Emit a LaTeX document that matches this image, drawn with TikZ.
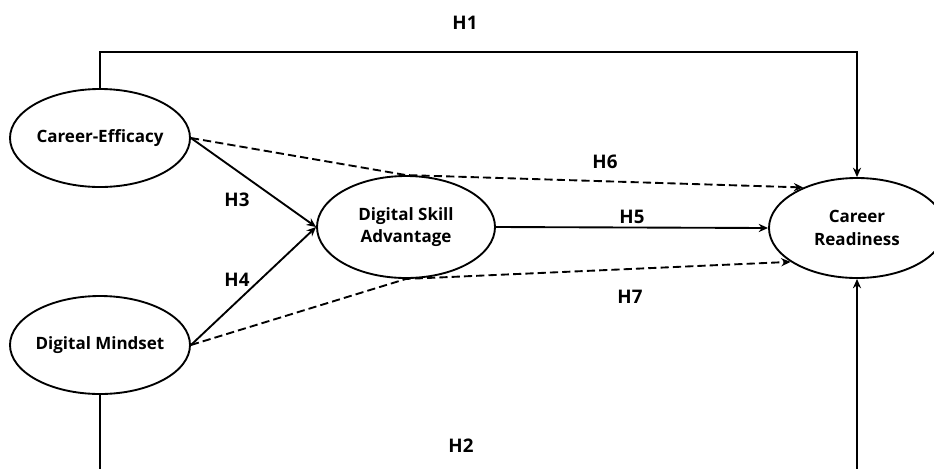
\documentclass[tikz,border=0pt]{standalone}
\usepackage{fontspec}
\setmainfont{Open Sans}
\usetikzlibrary{shapes.geometric, arrows.meta}

\tikzset{
  latent/.style = {draw, ellipse, line width = 1.6pt, inner sep = -3pt,
    align = center, font = \fontsize{14.5}{19}\selectfont\bfseries},
  hyp/.style = {font = \fontsize{16}{19}\selectfont\bfseries},
  path/.style = {line width = 1.6pt, -{Stealth[length = 8pt, width = 7pt]}},
  medpath/.style = {path, dash pattern = on 7pt off 3.5pt}
}

\begin{document}
\begin{tikzpicture}[x = 0.03cm, y = -0.03cm]
\useasboundingbox (0, 0) rectangle (934, 468);
\clip (0, 0) rectangle (934, 468);

\node[latent, minimum width = 5.4cm, minimum height = 2.94cm] (ce) at (100, 138) {Career-Efficacy};
\node[latent, minimum width = 5.4cm, minimum height = 2.94cm] (dm) at (100, 345) {Digital Mindset};
\node[latent, minimum width = 5.34cm, minimum height = 3.06cm] (dsa) at (406, 227) {Digital Skill\\Advantage};
\node[latent, minimum width = 5.28cm, minimum height = 3cm] (cr) at (857, 228) {Career\\Readiness};

\coordinate (h1) at (100, 52);
\coordinate (h2l) at (100, 490);
\coordinate (h2r) at (857, 490);

\draw[path] (ce.north) -- (h1) -| (cr.north);
\draw[path] (dm.south) -- (h2l) -- (h2r) -- (cr.south);
\draw[path] (ce.east) -- (dsa.west);
\draw[path] (dm.east) -- (dsa.west);
\draw[path] (dsa.east) -- (cr.west);
\draw[medpath] (ce.east) -- (dsa.north) -- (cr.143);
\draw[medpath] (dm.east) -- (dsa.south) -- (cr.207);

\node[hyp] (l1) at (465, 23) {H1};
\node[hyp] (l2) at (461, 446) {H2};
\node[hyp] (l3) at (237, 200) {H3};
\node[hyp] (l4) at (237, 280) {H4};
\node[hyp] (l5) at (632, 217) {H5};
\node[hyp] (l6) at (605, 162) {H6};
\node[hyp] (l7) at (630, 297) {H7};
\end{tikzpicture}
\end{document}
